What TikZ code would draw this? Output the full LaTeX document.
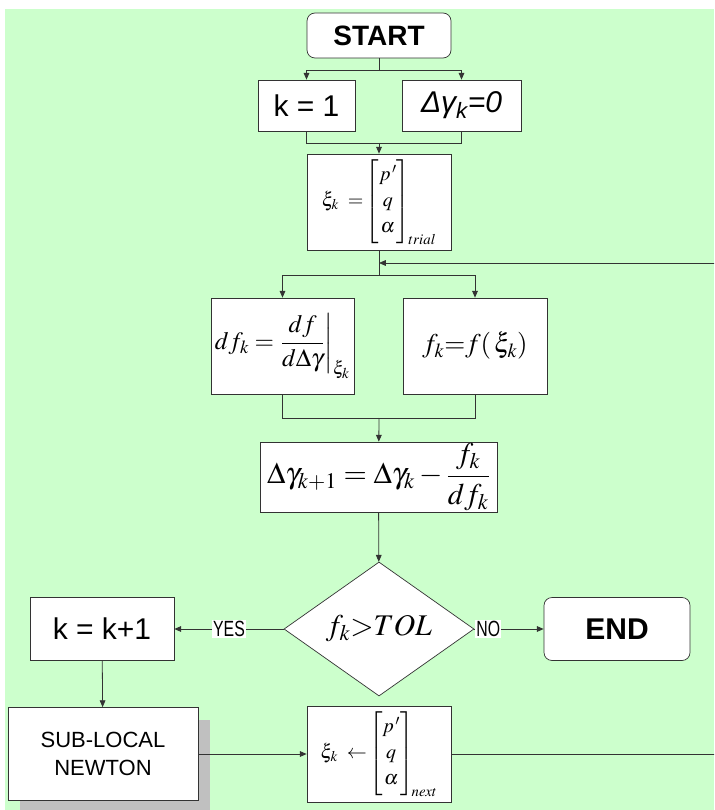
\RequirePackage{fix-cm}
\documentclass[tikz,border=0pt]{standalone}
\usepackage{amsmath}
\usepackage{mathptmx}
\usepackage{fontspec}
\setmainfont{Liberation Sans}
\usetikzlibrary{arrows.meta,positioning,calc,shapes.geometric,shadows}
\definecolor{mint}{HTML}{CCFFCC}
\definecolor{ink}{HTML}{333333}
\definecolor{shade}{HTML}{C0C0C0}
\newcommand{\narrow}[1]{\scalebox{0.72}[1]{#1}}

\begin{document}
\begin{tikzpicture}[
  x=1pt, y=-1pt,
  box/.style={draw=ink, fill=white, line width=0.7pt, inner sep=0pt, align=center},
  term/.style={box, rounded corners=8pt, font=\fontsize{28}{32}\selectfont\bfseries},
  plain/.style={box, font=\fontsize{30}{34}\selectfont},
  mathbox/.style={box, font=\fontsize{25}{29}\selectfont},
  smallmath/.style={box, font=\fontsize{20}{22}\selectfont},
  decide/.style={diamond, draw=ink, fill=white, line width=0.7pt, inner sep=0pt, font=\fontsize{30}{33}\selectfont},
  lbl/.style={fill=white, inner sep=1pt, font=\fontsize{22}{24}\selectfont},
  line/.style={draw=ink, line width=0.8pt},
  arrow/.style={line, -{Triangle[length=2.4mm, width=2mm]}}
]

% canvas
\path[use as bounding box, fill=white] (0,0) rectangle (714,810);
\fill[mint] (5,9) rectangle (714,810);
\clip (0,0) rectangle (714,810);

% initialisation
\node[term, minimum width=144pt, minimum height=45pt] (start) at (379,35.5) {START};
\node[plain, minimum width=97pt, minimum height=51pt] (kone) at (306.5,105.5) {k = 1};
\node[plain, minimum width=119pt, minimum height=51pt] (dgzero) at (461.5,105.5) {\textit{Δγ\textsubscript{k}=0}};
\node[smallmath, minimum width=144pt, minimum height=96pt] (xitrial) at (379,202)
{$\renewcommand\arraystretch{1.18}\xi_k \;=\! \begin{bmatrix} p^{\,\prime} \\ q \\ \alpha \end{bmatrix}_{\!trial}$};

% Newton step
\node[mathbox, minimum width=143pt, minimum height=96pt] (dfbox) at (282.5,346)
{$df_k = \left.\dfrac{df}{d\Delta\gamma}\right|_{\xi_k}$};
\node[mathbox, minimum width=144pt, minimum height=96pt, font=\fontsize{27}{30}\selectfont] (fkbox) at (475,346)
{$f_k{=}f(\,\xi_k)$};
\node[mathbox, minimum width=237pt, minimum height=70pt, font=\fontsize{30}{33}\selectfont] (dgnew) at (378.5,477)
{$\Delta\gamma_{k+1} = \Delta\gamma_k - \dfrac{f_k}{df_k}$};
\node[decide, minimum width=190pt, minimum height=134pt] (test) at (379,629) {$f_k{>}TOL$};

% branches
\node[plain, minimum width=144pt, minimum height=63pt] (kinc) at (102,629) {k = k+1};
\node[term, minimum width=146pt, minimum height=63pt, font=\fontsize{30}{34}\selectfont\bfseries] (finish) at (617,629) {END};
\node[box, minimum width=190pt, minimum height=93pt, font=\fontsize{22}{26}\selectfont,
  drop shadow={shadow xshift=12pt, shadow yshift=-12pt, fill=shade, opacity=1}] (sublocal) at (103,754)
{SUB-LOCAL\\[2pt]NEWTON};
\node[smallmath, minimum width=144pt, minimum height=96pt] (xinext) at (379,754)
{$\renewcommand\arraystretch{1.18}\xi_k \;\leftarrow\! \begin{bmatrix} p^{\,\prime} \\ q \\ \alpha \end{bmatrix}_{\!next}$};

% junction points
\coordinate (fork1) at (379,70);
\coordinate (join1) at (379,143);
\coordinate (loopin) at (379,263);
\coordinate (fork2) at (379,275);
\coordinate (join2) at (379,418);
\coordinate (loopR) at (740,754);

% connectors
\draw[line] (start) -- (fork1);
\draw[arrow] (fork1) -| (kone);
\draw[arrow] (fork1) -| (dgzero);
\draw[line] (kone) |- (join1);
\draw[line] (dgzero) |- (join1);
\draw[arrow] (join1) -- (xitrial);
\draw[line] (xitrial) -- (fork2);
\draw[arrow] (fork2) -| (dfbox);
\draw[arrow] (fork2) -| (fkbox);
\draw[line] (dfbox) |- (join2);
\draw[line] (fkbox) |- (join2);
\draw[arrow] (join2) -- (dgnew);
\draw[arrow] (dgnew) -- (test);
\draw[arrow] (test) -- node[lbl] {\narrow{YES}} (kinc);
\draw[arrow] (test) -- node[lbl, pos=0.2] {\narrow{NO}} (finish);
\draw[arrow] (kinc) -- (sublocal);
\draw[arrow] (sublocal) -- (xinext);
\draw[arrow] (xinext) -- (loopR) |- (loopin);

\end{tikzpicture}
\end{document}
